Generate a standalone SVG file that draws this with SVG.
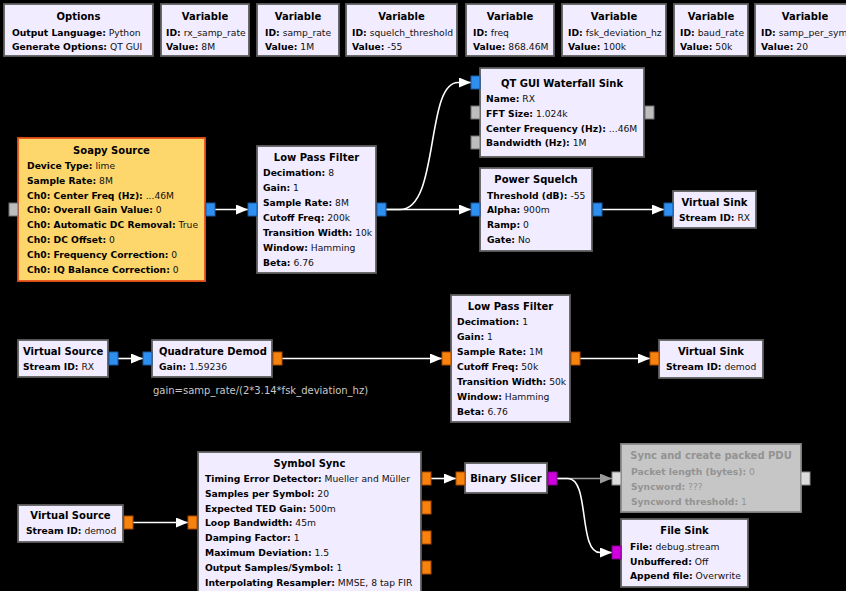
<svg xmlns="http://www.w3.org/2000/svg" width="846" height="591" viewBox="0 0 846 591">
<style>
text{font-family:"DejaVu Sans","Liberation Sans",sans-serif;font-size:9.2px;fill:#111}
.b{font-weight:bold;fill:#000}
.t{font-weight:bold;text-anchor:middle;fill:#000;font-size:10px}
.tl{font-weight:bold;fill:#000;font-size:10px}
.blk{fill:#F1ECFF;stroke:#5e5e5e;stroke-width:1.8}
.soapy{fill:#FDD76B;stroke:#E8511A;stroke-width:1.8}
.dis{fill:#C6C6C6;stroke:#8a8a8a;stroke-width:1.8}
text.d,tspan.d,.t.d,.b.d{fill:#939393}
.pc{fill:#2F8FF0;stroke:#1a5aa0;stroke-width:1}
.pf{fill:#F7820E;stroke:#a84b00;stroke-width:1}
.pb{fill:#D000E0;stroke:#800088;stroke-width:1}
.pm{fill:#BDBDBD;stroke:#707070;stroke-width:1}
.pd{fill:#DCDCDC;stroke:#8a8a8a;stroke-width:1}
.cn{fill:none;stroke:#fff;stroke-width:1.6;marker-end:url(#ah)}
.cnd{fill:none;stroke:#9a9a9a;stroke-width:1.4;marker-end:url(#ahd)}
text.cm{fill:#c8c8c8;font-size:10px}
</style>
<defs>
<marker id="ah" markerUnits="userSpaceOnUse" markerWidth="12" markerHeight="10" refX="12" refY="5" orient="auto"><path d="M0,0 L12,5 L0,10 z" fill="#fff"/></marker>
<marker id="ahd" markerUnits="userSpaceOnUse" markerWidth="12" markerHeight="10" refX="12" refY="5" orient="auto"><path d="M0,0 L12,5 L0,10 z" fill="#9a9a9a"/></marker>
</defs>
<rect width="846" height="591" fill="#000"/>

<g id="connectors">
<path class="cn" d="M214,209.5 H248"/>
<path class="cn" d="M386,209.5 H400 C440,209.5 425,82.5 458,82.5 H471"/>
<path class="cn" d="M386,209.5 H471"/>
<path class="cn" d="M602,209.5 H664"/>
<path class="cn" d="M117,358.5 H143"/>
<path class="cn" d="M282,358.5 H442"/>
<path class="cn" d="M579,358.5 H650"/>
<path class="cn" d="M133,522.5 H188"/>
<path class="cn" d="M430,478.5 H456"/>
<path class="cnd" d="M557,478.5 H612"/>
<path class="cn" d="M557,478.5 H568 C590,478.5 578,552.5 600,552.5 H612"/>
</g>

<g id="options">
<rect class="blk" x="4" y="4" width="149" height="52"/>
<text class="t" x="78.5" y="19.5">Options</text>
<text x="12" y="35.5"><tspan class="b">Output Language:</tspan> Python</text>
<text x="12" y="50"><tspan class="b">Generate Options:</tspan> QT GUI</text>
</g>
<g id="var_rx_samp_rate">
<rect class="blk" x="161" y="4" width="88" height="52"/>
<text class="t" x="205" y="19.5">Variable</text>
<text x="166" y="35.5"><tspan class="b">ID:</tspan> rx_samp_rate</text>
<text x="166" y="50"><tspan class="b">Value:</tspan> 8M</text>
</g>
<g id="var_samp_rate">
<rect class="blk" x="257" y="4" width="82" height="52"/>
<text class="t" x="298" y="19.5">Variable</text>
<text x="265" y="35.5"><tspan class="b">ID:</tspan> samp_rate</text>
<text x="265" y="50"><tspan class="b">Value:</tspan> 1M</text>
</g>
<g id="var_squelch_threshold">
<rect class="blk" x="346" y="4" width="111" height="52"/>
<text class="t" x="401.5" y="19.5">Variable</text>
<text x="352" y="35.5"><tspan class="b">ID:</tspan> squelch_threshold</text>
<text x="352" y="50"><tspan class="b">Value:</tspan> -55</text>
</g>
<g id="var_freq">
<rect class="blk" x="466" y="4" width="88" height="52"/>
<text class="t" x="510" y="19.5">Variable</text>
<text x="473" y="35.5"><tspan class="b">ID:</tspan> freq</text>
<text x="473" y="50"><tspan class="b">Value:</tspan> 868.46M</text>
</g>
<g id="var_fsk_deviation_hz">
<rect class="blk" x="562" y="4" width="104" height="52"/>
<text class="t" x="614" y="19.5">Variable</text>
<text x="568" y="35.5"><tspan class="b">ID:</tspan> fsk_deviation_hz</text>
<text x="568" y="50"><tspan class="b">Value:</tspan> 100k</text>
</g>
<g id="var_baud_rate">
<rect class="blk" x="674" y="4" width="74" height="52"/>
<text class="t" x="711" y="19.5">Variable</text>
<text x="680" y="35.5"><tspan class="b">ID:</tspan> baud_rate</text>
<text x="680" y="50"><tspan class="b">Value:</tspan> 50k</text>
</g>
<g id="var_samp_per_sym">
<rect class="blk" x="755" y="4" width="100" height="52"/>
<text class="t" x="805" y="19.5">Variable</text>
<text x="761" y="35.5"><tspan class="b">ID:</tspan> samp_per_sym</text>
<text x="761" y="50"><tspan class="b">Value:</tspan> 20</text>
</g>

<g id="soapy_source">
<rect class="soapy" x="18" y="138" width="187" height="143"/>
<rect class="pm" x="9" y="203" width="9" height="13"/>
<rect class="pc" x="206" y="203" width="9" height="13"/>
<text class="t" x="111.5" y="154">Soapy Source</text>
<text x="27" y="169"><tspan class="b">Device Type:</tspan> lime</text>
<text x="27" y="184"><tspan class="b">Sample Rate:</tspan> 8M</text>
<text x="27" y="198.5"><tspan class="b">Ch0: Center Freq (Hz):</tspan> ...46M</text>
<text x="27" y="213"><tspan class="b">Ch0: Overall Gain Value:</tspan> 0</text>
<text x="27" y="228"><tspan class="b">Ch0: Automatic DC Removal:</tspan> True</text>
<text x="27" y="243"><tspan class="b">Ch0: DC Offset:</tspan> 0</text>
<text x="27" y="257.5"><tspan class="b">Ch0: Frequency Correction:</tspan> 0</text>
<text x="27" y="272.5"><tspan class="b">Ch0: IQ Balance Correction:</tspan> 0</text>
</g>

<g id="low_pass_filter_0">
<rect class="blk" x="257" y="146" width="119" height="127"/>
<rect class="pc" x="248" y="203" width="9" height="13"/>
<rect class="pc" x="377" y="203" width="9" height="13"/>
<text class="t" x="316.5" y="160.5">Low Pass Filter</text>
<text x="263" y="175.5"><tspan class="b">Decimation:</tspan> 8</text>
<text x="263" y="190.5"><tspan class="b">Gain:</tspan> 1</text>
<text x="263" y="205.5"><tspan class="b">Sample Rate:</tspan> 8M</text>
<text x="263" y="220.5"><tspan class="b">Cutoff Freq:</tspan> 200k</text>
<text x="263" y="235.5"><tspan class="b">Transition Width:</tspan> 10k</text>
<text x="263" y="250.5"><tspan class="b">Window:</tspan> Hamming</text>
<text x="263" y="265.5"><tspan class="b">Beta:</tspan> 6.76</text>
</g>

<g id="qtgui_waterfall_sink">
<rect class="blk" x="480" y="68" width="164" height="89"/>
<rect class="pc" x="471" y="76" width="9" height="13"/>
<rect class="pm" x="471" y="106" width="9" height="13"/>
<rect class="pm" x="471" y="136" width="9" height="13"/>
<rect class="pm" x="645" y="106" width="9" height="13"/>
<text class="t" x="562" y="86.5">QT GUI Waterfall Sink</text>
<text x="486" y="101.5"><tspan class="b">Name:</tspan> RX</text>
<text x="486" y="116.5"><tspan class="b">FFT Size:</tspan> 1.024k</text>
<text x="486" y="131.5"><tspan class="b">Center Frequency (Hz):</tspan> ...46M</text>
<text x="486" y="146"><tspan class="b">Bandwidth (Hz):</tspan> 1M</text>
</g>

<g id="power_squelch">
<rect class="blk" x="480" y="168" width="112" height="83"/>
<rect class="pc" x="471" y="203" width="9" height="13"/>
<rect class="pc" x="593" y="203" width="9" height="13"/>
<text class="t" x="536" y="182.5">Power Squelch</text>
<text x="487" y="198.5"><tspan class="b">Threshold (dB):</tspan> -55</text>
<text x="487" y="212.5"><tspan class="b">Alpha:</tspan> 900m</text>
<text x="487" y="227.5"><tspan class="b">Ramp:</tspan> 0</text>
<text x="487" y="242.5"><tspan class="b">Gate:</tspan> No</text>
</g>

<g id="virtual_sink_rx">
<rect class="blk" x="673" y="191" width="83" height="37"/>
<rect class="pc" x="664" y="203" width="9" height="13"/>
<text class="t" x="714.5" y="205.5">Virtual Sink</text>
<text x="679" y="220.5"><tspan class="b">Stream ID:</tspan> RX</text>
</g>

<g id="virtual_source_rx">
<rect class="blk" x="18" y="340" width="90" height="37"/>
<rect class="pc" x="109" y="352" width="9" height="13"/>
<text x="23" y="354.5" class="tl">Virtual Source</text>
<text x="23" y="369.5"><tspan class="b">Stream ID:</tspan> RX</text>
</g>

<g id="quadrature_demod">
<rect class="blk" x="152" y="340" width="120" height="37"/>
<rect class="pc" x="143" y="352" width="9" height="13"/>
<rect class="pf" x="273" y="352" width="9" height="13"/>
<text x="159" y="354.5" class="tl">Quadrature Demod</text>
<text x="159" y="369.5"><tspan class="b">Gain:</tspan> 1.59236</text>
</g>
<text class="cm" x="153" y="394">gain=samp_rate/(2*3.14*fsk_deviation_hz)</text>

<g id="low_pass_filter_1">
<rect class="blk" x="451" y="295" width="119" height="127"/>
<rect class="pf" x="442" y="352" width="9" height="13"/>
<rect class="pf" x="571" y="352" width="9" height="13"/>
<text class="t" x="510.5" y="309.5">Low Pass Filter</text>
<text x="457" y="324.5"><tspan class="b">Decimation:</tspan> 1</text>
<text x="457" y="339.5"><tspan class="b">Gain:</tspan> 1</text>
<text x="457" y="354.5"><tspan class="b">Sample Rate:</tspan> 1M</text>
<text x="457" y="369.5"><tspan class="b">Cutoff Freq:</tspan> 50k</text>
<text x="457" y="384.5"><tspan class="b">Transition Width:</tspan> 50k</text>
<text x="457" y="399.5"><tspan class="b">Window:</tspan> Hamming</text>
<text x="457" y="414.5"><tspan class="b">Beta:</tspan> 6.76</text>
</g>

<g id="virtual_sink_demod">
<rect class="blk" x="659" y="340" width="104" height="38"/>
<rect class="pf" x="650" y="352" width="9" height="13"/>
<text class="t" x="711" y="354.5">Virtual Sink</text>
<text x="666" y="369.5"><tspan class="b">Stream ID:</tspan> demod</text>
</g>

<g id="virtual_source_demod">
<rect class="blk" x="18" y="505" width="105" height="37"/>
<rect class="pf" x="124" y="516" width="9" height="13"/>
<text class="t" x="70.5" y="518.5">Virtual Source</text>
<text x="26" y="533.5"><tspan class="b">Stream ID:</tspan> demod</text>
</g>

<g id="symbol_sync">
<rect class="blk" x="198" y="452" width="223" height="145"/>
<rect class="pf" x="188" y="516" width="9" height="13"/>
<rect class="pf" x="422" y="472" width="9" height="13"/>
<rect class="pf" x="422" y="501" width="9" height="13"/>
<rect class="pf" x="422" y="531" width="9" height="13"/>
<rect class="pf" x="422" y="561" width="9" height="13"/>
<text class="t" x="309.5" y="466.5">Symbol Sync</text>
<text x="205" y="481.5"><tspan class="b">Timing Error Detector:</tspan> Mueller and Müller</text>
<text x="205" y="496.5"><tspan class="b">Samples per Symbol:</tspan> 20</text>
<text x="205" y="511.5"><tspan class="b">Expected TED Gain:</tspan> 500m</text>
<text x="205" y="525.5"><tspan class="b">Loop Bandwidth:</tspan> 45m</text>
<text x="205" y="540.5"><tspan class="b">Damping Factor:</tspan> 1</text>
<text x="205" y="555.5"><tspan class="b">Maximum Deviation:</tspan> 1.5</text>
<text x="205" y="570.5"><tspan class="b">Output Samples/Symbol:</tspan> 1</text>
<text x="205" y="586"><tspan class="b">Interpolating Resampler:</tspan> MMSE, 8 tap FIR</text>
</g>

<g id="binary_slicer">
<rect class="blk" x="465" y="463" width="82" height="30"/>
<rect class="pf" x="456" y="472" width="9" height="13"/>
<rect class="pb" x="548" y="472" width="9" height="13"/>
<text class="t" x="506" y="481.5">Binary Slicer</text>
</g>

<g id="sync_packed_pdu">
<rect class="dis" x="621" y="444" width="180" height="68"/>
<rect class="pd" x="612" y="472" width="9" height="13"/>
<rect class="pd" x="801" y="472" width="9" height="13"/>
<text class="t d" x="711" y="458.5">Sync and create packed PDU</text>
<text class="d" x="631" y="474.5"><tspan class="b d">Packet length (bytes):</tspan> 0</text>
<text class="d" x="631" y="489.5"><tspan class="b d">Syncword:</tspan> ???</text>
<text class="d" x="631" y="504.5"><tspan class="b d">Syncword threshold:</tspan> 1</text>
</g>

<g id="file_sink">
<rect class="blk" x="621" y="519" width="127" height="68"/>
<rect class="pb" x="612" y="546" width="9" height="13"/>
<text class="t" x="684.5" y="533.5">File Sink</text>
<text x="630" y="549.5"><tspan class="b">File:</tspan> debug.stream</text>
<text x="630" y="564.5"><tspan class="b">Unbuffered:</tspan> Off</text>
<text x="630" y="578.5"><tspan class="b">Append file:</tspan> Overwrite</text>
</g>
</svg>
